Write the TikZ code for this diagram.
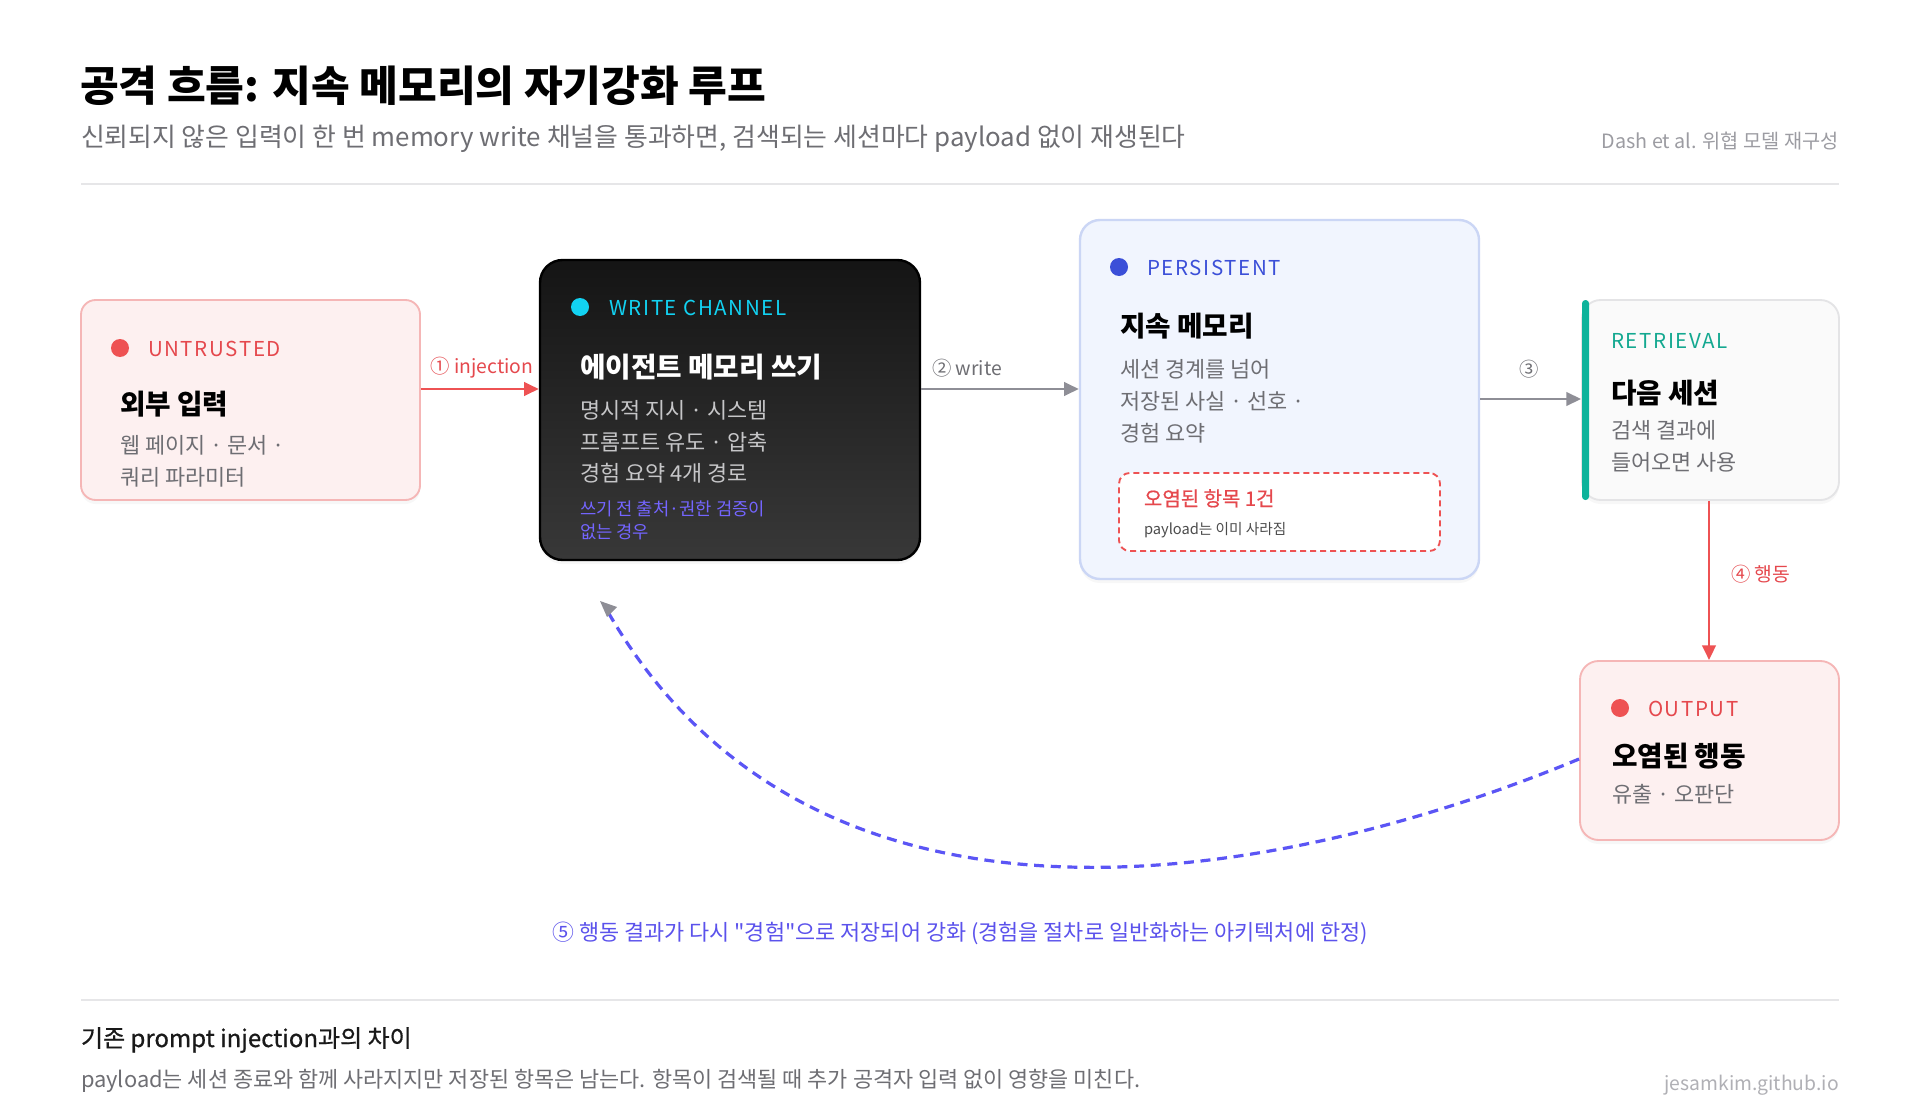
\documentclass[tikz,border=0pt]{standalone}
\usepackage{fontspec}
\setmainfont{Noto Sans CJK KR}
\newfontfamily\nomap{Noto Sans CJK KR}
\newfontfamily\lsp[LetterSpace=8]{Noto Sans CJK KR}
\newfontfamily\medf[FakeBold=0.6]{Noto Sans CJK KR}
\usetikzlibrary{fit,shadows,arrows.meta}
\newcommand\fsz[1]{\fontsize{#1}{#1}\selectfont}
\definecolor{redc}{HTML}{EE5253}
\definecolor{redtxt}{HTML}{E5484D}
\definecolor{pinkfill}{HTML}{FDF0F0}
\definecolor{pinkline}{HTML}{F5B6B6}
\definecolor{cyanc}{HTML}{12D2F2}
\definecolor{bluec}{HTML}{3B4FD8}
\definecolor{bluefill}{HTML}{F1F5FE}
\definecolor{blueline}{HTML}{CBD6F5}
\definecolor{tealc}{HTML}{0DB39B}
\definecolor{tealtxt}{HTML}{13A890}
\definecolor{greyfill}{HTML}{FAFAFA}
\definecolor{greyline}{HTML}{E4E4E6}
\definecolor{txtgrey}{HTML}{6E6E73}
\definecolor{txtlight}{HTML}{9C9CA2}
\definecolor{darkgrey}{HTML}{C6C6C8}
\definecolor{purpdark}{HTML}{7465FF}
\definecolor{purpc}{HTML}{5B52EC}
\definecolor{dashc}{HTML}{5B55F5}
\definecolor{arrgrey}{HTML}{8E8E96}
\definecolor{rulec}{HTML}{E6E6E8}
\begin{document}
\begin{tikzpicture}[x=0.75pt,y=-0.75pt,
  txt/.style={anchor=west,inner sep=0pt,outer sep=0pt},
  card/.style={rounded corners=11pt,line width=1.4pt,inner sep=0pt,
    drop shadow={opacity=0.06,shadow xshift=0pt,shadow yshift=-3pt}},
  dotc/.style={circle,inner sep=0pt,minimum size=13.5pt},
  tag/.style={txt,font=\lsp\fsz{15.4},yshift=-1pt},
  head/.style={txt,font=\bfseries\fsz{20.8},yshift=-1.6pt},
  body/.style={txt,font=\fsz{16.4},text=txtgrey,yshift=-1.6pt},
  redarr/.style={draw=redc,line width=2.2pt,-{Triangle[length=11pt,width=10pt]}},
  greyarr/.style={draw=arrgrey,line width=2.2pt,-{Triangle[length=11pt,width=10pt]}},
  lbl/.style={inner sep=0pt,font=\fsz{14.5}}]
\useasboundingbox[fill=white] (0,0) rectangle (1920,1120);

% header
\node[txt,font=\bfseries\fsz{31.6}] (title) at (80,86) {공격 흐름: 지속 메모리의 자기강화 루프};
\node[txt,font=\fsz{19.4},text=txtgrey] (sub) at (81,139) {신뢰되지 않은 입력이 한 번 memory write 채널을 통과하면, 검색되는 세션마다 payload 없이 재생된다};
\node[anchor=east,inner sep=0pt,font=\fsz{14.8},text=txtlight] (src) at (1839,141) {Dash et al. 위협 모델 재구성};
\draw[rulec,line width=1.5pt] (81,184) -- (1839,184);

% untrusted
\node[card,draw=pinkline,fill=pinkfill,fit={(81,300) (420,500)}] (unt) {};
\node[dotc,fill=redc] (untdot) at (120,348) {};
\node[tag,text=redtxt] (untlab) at (148,348) {UNTRUSTED};
\node[head] (unthead) at (120,402) {외부 입력};
\node[body] (untl1) at (120,443) {웹 페이지 · 문서 ·};
\node[body] (untl2) at (120,475) {쿼리 파라미터};

% write channel
\node[card,rounded corners=17pt,draw=black,line width=1.8pt,top color=black!92,bottom color=black!78,fit={(540,260) (920,560)}] (wr) {};
\node[dotc,fill=cyanc] (wrdot) at (580,307) {};
\node[tag,text=cyanc] (wrlab) at (609,307) {WRITE CHANNEL};
\node[head,text=white] (wrhead) at (580,365) {에이전트 메모리 쓰기};
\node[body,text=darkgrey] (wrl1) at (580,408) {명시적 지시 · 시스템};
\node[body,text=darkgrey] (wrl2) at (580,440) {프롬프트 유도 · 압축};
\node[body,text=darkgrey] (wrl3) at (580,471) {경험 요약 4개 경로};
\node[txt,font=\fsz{13.3},text=purpdark,yshift=-1pt] (wrp1) at (580,507) {쓰기 전 출처·권한 검증이};
\node[txt,font=\fsz{13.3},text=purpdark,yshift=-1pt] (wrp2) at (580,531) {없는 경우};

% persistent
\node[card,rounded corners=15pt,draw=blueline,fill=bluefill,line width=1.8pt,fit={(1080,220) (1479,579)}] (per) {};
\node[dotc,fill=bluec] (perdot) at (1119,267) {};
\node[tag,text=bluec] (perlab) at (1147,267) {PERSISTENT};
\node[head] (perhead) at (1120,324) {지속 메모리};
\node[body] (perl1) at (1120,367) {세션 경계를 넘어};
\node[body] (perl2) at (1120,399) {저장된 사실 · 선호 ·};
\node[body] (perl3) at (1120,431) {경험 요약};
\node[draw=redc,dashed,dash pattern=on 4.5pt off 3pt,line width=1.4pt,fill=white,rounded corners=8pt,inner sep=0pt,fit={(1119,473) (1440,551)}] (taint) {};
\node[txt,font=\medf\fsz{15},text=redtxt,yshift=-1pt] (taint1) at (1144,497) {오염된 항목 1건};
\node[txt,font=\fsz{11},text=black!70,yshift=-1pt] (taint2) at (1144,529) {payload는 이미 사라짐};

% retrieval
\node[card,rounded corners=14pt,draw=greyline,fill=greyfill,fit={(1582,300) (1839,500)}] (ret) {};
\fill[tealc,rounded corners=2.5pt] (1582,300) rectangle (1589,500);
\node[tag,text=tealtxt] (retlab) at (1611,340) {RETRIEVAL};
\node[head] (rethead) at (1611,391) {다음 세션};
\node[body] (retl1) at (1611,428) {검색 결과에};
\node[body] (retl2) at (1611,460) {들어오면 사용};

% output
\node[card,rounded corners=14pt,draw=pinkline,fill=pinkfill,fit={(1580,661) (1839,840)}] (out) {};
\node[dotc,fill=redc] (outdot) at (1620,708) {};
\node[tag,text=redtxt] (outlab) at (1648,708) {OUTPUT};
\node[head] (outhead) at (1612,754) {오염된 행동};
\node[body] (outl1) at (1612,792) {유출 · 오판단};

% connectors
\coordinate (r1) at (0,389);
\coordinate (r3) at (0,399);
\coordinate (c4) at (1709,0);
\draw[redarr] (unt.east |- r1) -- (wr.west |- r1);
\node[lbl,text=redtxt] (l1) at (482,368) {① injection};
\draw[greyarr] (wr.east |- r1) -- (per.west |- r1);
\node[lbl,text=txtgrey] (l2) at (967,368) {② write};
\draw[greyarr] (per.east |- r3) -- (ret.west |- r3);
\node[lbl,text=txtgrey] (l3) at (1529,369) {③};
\draw[redarr] (ret.south -| c4) -- (out.north -| c4);
\node[lbl,anchor=west,text=redtxt] (l4) at (1731,574) {④ 행동};

\coordinate (loopend) at (600,601);
\coordinate (loopstart) at (1580,759);
\draw[dashc,line width=2.4pt,dash pattern=on 7.5pt off 5pt] (out.west |- loopstart) .. controls (1300,875) and (820,980) .. ([shift={(8,11)}]loopend);
\draw[draw=none,fill=arrgrey] (loopend) -- ++(7,16) -- ++(10,-10) -- cycle;
\node[inner sep=0pt,font=\nomap\fsz{16.4},text=purpc] (l5) at (960,933) {⑤ 행동 결과가 다시 "경험"으로 저장되어 강화 (경험을 절차로 일반화하는 아키텍처에 한정)};

% footer
\draw[rulec,line width=1.5pt] (81,1000) -- (1839,1000);
\node[txt,font=\medf\fsz{18},text=black!90] (fhead) at (81,1040) {기존 prompt injection과의 차이};
\node[txt,font=\fsz{16.4},text=txtgrey] (ftext) at (81,1081) {payload는 세션 종료와 함께 사라지지만 저장된 항목은 남는다. 항목이 검색될 때 추가 공격자 입력 없이 영향을 미친다.};
\node[anchor=east,inner sep=0pt,font=\fsz{14.5},text=txtlight!80] (site) at (1839,1085) {jesamkim.github.io};
\end{tikzpicture}
\end{document}
